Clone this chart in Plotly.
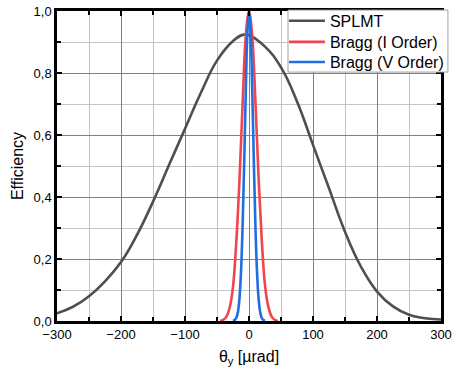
import plotly.graph_objects as go

# SPLMT efficiency
splmt_x = [-300, -275, -250, -225, -200, -175, -150, -125, -100, -75, -50, -25, -10,
           0, 25, 50, 75, 100, 125, 150, 175, 200, 225, 250, 275, 300]
splmt_y = [0.025, 0.046, 0.08, 0.128, 0.19, 0.278, 0.385, 0.503, 0.62, 0.737, 0.84, 0.903, 0.923,
           0.922, 0.885, 0.818, 0.708, 0.568, 0.428, 0.288, 0.175, 0.095, 0.047, 0.02, 0.009, 0.005]

# Bragg first order
bragg1_x = [-45, -40, -35, -30, -25, -20, -15, -10, -5, 0, 5, 10, 15, 20, 25, 30, 35, 40, 45]
bragg1_y = [0.0, 0.004, 0.015, 0.045, 0.11, 0.25, 0.45, 0.70, 0.92, 1.0, 0.92, 0.71, 0.46,
            0.26, 0.115, 0.048, 0.016, 0.004, 0.0]

# Bragg fifth order
bragg5_x = [-25, -22.5, -20, -17.5, -15, -12.5, -10, -7.5, -5, -2.5, 0,
            2.5, 5, 7.5, 10, 12.5, 15, 17.5, 20, 22.5, 25]
bragg5_y = [0.0, 0.003, 0.009, 0.027, 0.07, 0.157, 0.306, 0.514, 0.744, 0.929, 0.995,
            0.93, 0.75, 0.52, 0.31, 0.16, 0.072, 0.028, 0.009, 0.003, 0.0]

fig = go.Figure()
fig.add_trace(go.Scatter(x=splmt_x, y=splmt_y, mode="lines", name="SPLMT", legend="legend",
                         line=dict(color="#4f4f4f", width=2.6, shape="spline", smoothing=1.3)))
fig.add_trace(go.Scatter(x=bragg1_x, y=bragg1_y, mode="lines", name="Bragg (I Order)", legend="legend2",
                         line=dict(color="#f2444c", width=2.6, shape="spline")))
fig.add_trace(go.Scatter(x=bragg5_x, y=bragg5_y, mode="lines", name="Bragg (V Order)", legend="legend3",
                         line=dict(color="#1f6fe0", width=2.6, shape="spline")))

font = "Liberation Sans, Arial, sans-serif"
leg_common = dict(x=0.591, xanchor="left", yanchor="middle",
                  bgcolor="rgba(0,0,0,0)", borderwidth=0,
                  font=dict(size=16, family=font), itemwidth=36)

fig.update_layout(
    width=453, height=376,
    margin=dict(l=57, r=12, t=11, b=55, autoexpand=False),
    paper_bgcolor="white", plot_bgcolor="white",
    separators=",.",
    font=dict(family=font, size=13, color="black"),
    showlegend=True,
    legend=dict(y=0.968, **leg_common),
    legend2=dict(y=0.900, **leg_common),
    legend3=dict(y=0.835, **leg_common),
    shapes=[dict(type="rect", xref="paper", yref="paper",
                 x0=0.6016, x1=1.018, y0=0.803, y1=1.003,
                 line=dict(color="#a0a0a0", width=1), fillcolor="white", layer="above")],
    xaxis=dict(range=[-300, 300], dtick=100, tick0=0,
               showline=True, linecolor="black", linewidth=2.5, mirror="ticks",
               ticks="inside", ticklen=5, tickwidth=2, tickcolor="black",
               showgrid=True, gridcolor="#808080", gridwidth=1, zeroline=False,
               tickfont=dict(size=13),
               title=dict(text="θ<sub>y</sub> [µrad]", font=dict(size=16), standoff=10),
               minor=dict(dtick=50, ticks="inside", ticklen=4, tickwidth=2, tickcolor="black",
                          showgrid=True, gridcolor="#c4c4c4", gridwidth=1)),
    yaxis=dict(range=[0, 1.0], dtick=0.2, tickformat=".1f",
               showline=True, linecolor="black", linewidth=2.5, mirror="ticks",
               ticks="inside", ticklen=5, tickwidth=2, tickcolor="black",
               showgrid=True, gridcolor="#808080", gridwidth=1, zeroline=False,
               tickfont=dict(size=13),
               title=dict(text="Efficiency", font=dict(size=16), standoff=6),
               minor=dict(dtick=0.1, ticks="inside", ticklen=4, tickwidth=2, tickcolor="black",
                          showgrid=True, gridcolor="#c4c4c4", gridwidth=1)),
)

fig.write_html("out.html")
